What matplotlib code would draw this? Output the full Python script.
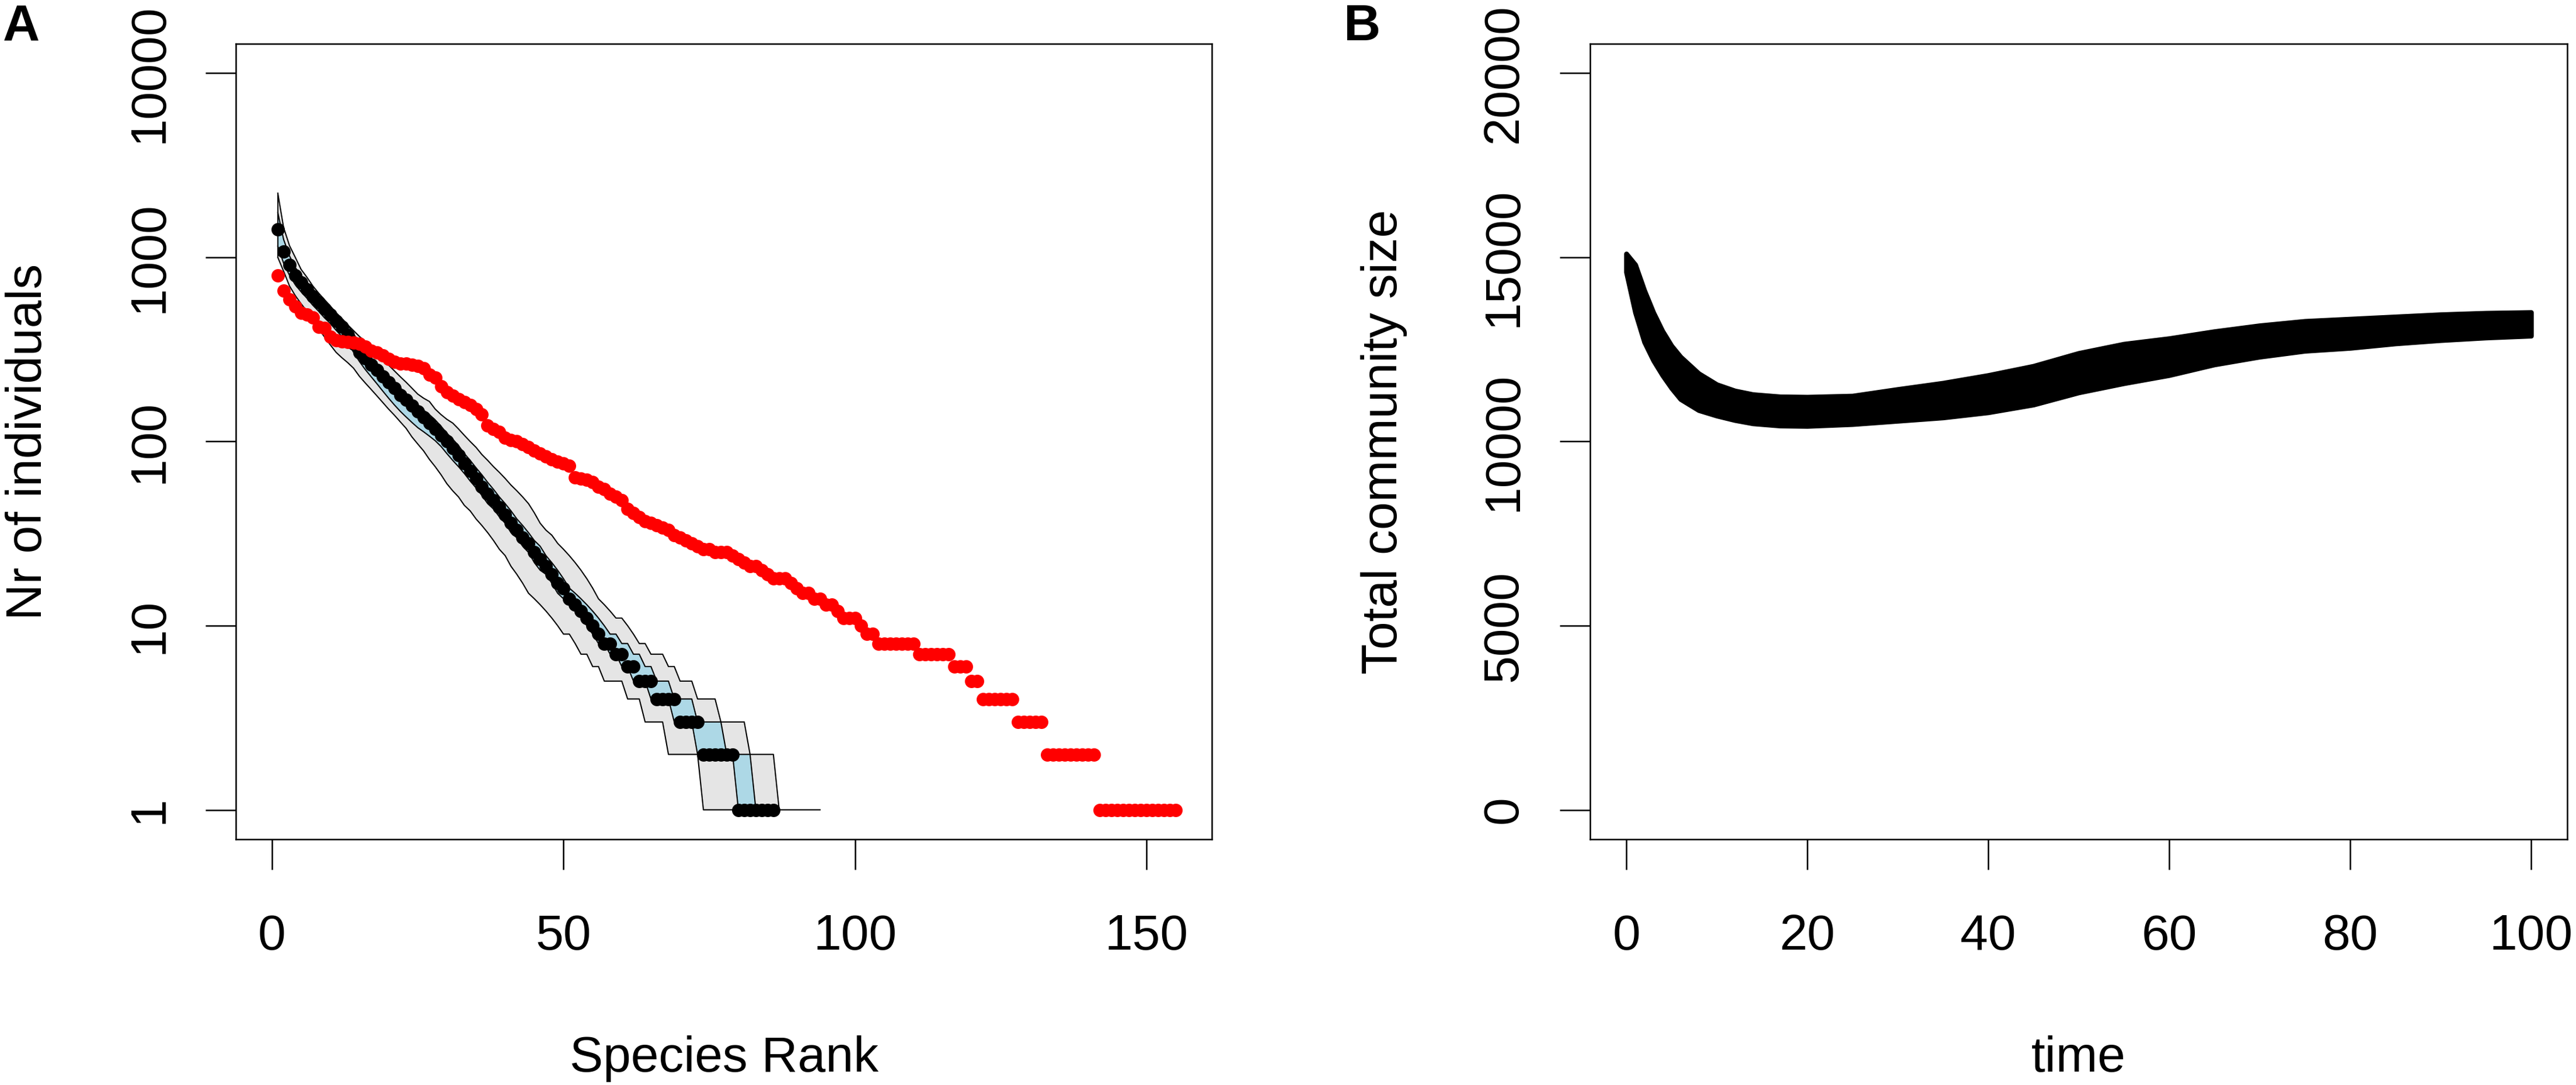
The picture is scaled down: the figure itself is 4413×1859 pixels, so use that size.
import matplotlib
matplotlib.use("Agg")
import matplotlib.pyplot as plt
import numpy as np

plt.rcParams['font.family'] = ['Liberation Sans', 'DejaVu Sans']

# ---- panel A: rank abundance ----
# observed community (red), ranks 1..155
observed = [800, 660, 590, 540, 500, 490, 470, 420, 415, 370,
            355, 350, 348, 345, 340, 328, 312, 305, 294, 280,
            270, 265, 265, 262, 258, 250, 230, 222, 200, 185,
            177, 170, 164, 158, 150, 140, 122, 117, 113, 105,
            102, 100, 97, 93, 89, 86, 83, 80, 78, 76,
            74, 64, 63, 62, 60, 57, 55, 52, 50, 48,
            43, 41, 39, 37, 36, 35, 34, 33, 31, 30,
            29, 28, 27, 26, 26, 25, 25, 25, 24, 23,
            22, 21, 21, 20, 19, 18, 18, 18, 17, 16,
            15, 15, 14, 14, 13, 13, 12, 11, 11, 11,
            10, 9, 9,
            8, 8, 8, 8, 8, 8, 8,
            7, 7, 7, 7, 7, 7,
            6, 6, 6,
            5, 5,
            4, 4, 4, 4, 4, 4,
            3, 3, 3, 3, 3,
            2, 2, 2, 2, 2, 2, 2, 2, 2,
            1, 1, 1, 1, 1, 1, 1, 1, 1, 1, 1, 1, 1, 1]

# simulated median (black), ranks 1..86
simulated = [1420, 1075, 910, 795, 730, 670, 615, 570, 525, 490,
             450, 420, 380, 340, 305, 282, 262, 244, 226, 209,
             195, 179, 169, 157, 146, 135, 126, 117, 108, 100,
             92, 84, 76, 69, 63, 57, 52, 48, 44, 40,
             36, 33, 30, 28, 25, 23, 21, 19, 17, 16,
             14, 13, 12, 11, 10, 9, 8, 8, 7, 7,
             6, 6, 5, 5, 5, 4, 4, 4, 4, 3,
             3, 3, 3,
             2, 2, 2, 2, 2, 2,
             1, 1, 1, 1, 1, 1, 1]

# outer envelope (grey)
outer_hi = [2230, 1450, 1160, 1000, 860, 780, 700, 640, 590, 545,
            500, 465, 430, 400, 372, 350, 325, 302, 280, 260,
            242, 225, 210, 195, 181, 172, 165, 150, 140, 132,
            126, 117, 108, 100, 93, 85, 79, 73, 68, 63,
            58, 54, 50, 46, 41, 36, 33, 31, 28, 26,
            24, 22, 20, 18, 16, 14, 13, 12, 11, 11,
            10, 9, 8, 8, 7, 7, 7, 6, 6, 5,
            5, 5, 4, 4, 4, 4, 3, 3, 3, 3,
            3, 2, 2, 2, 2, 2,
            1, 1, 1, 1, 1, 1, 1, 1]
outer_lo = [1000, 840, 700, 620, 560, 510, 460, 410, 370, 335,
            305, 285, 268, 250, 226, 208, 192, 177, 163, 150,
            139, 128, 118, 106, 97, 89, 80, 73, 66, 59,
            54, 50, 45, 42, 38, 35, 32, 29, 26, 24,
            21, 19, 17, 15, 14, 13, 12, 11, 10, 9,
            9, 8, 7, 7, 6, 6, 5, 5, 5, 5,
            4, 4, 4, 3, 3, 3, 3,
            2, 2, 2, 2, 2, 2,
            1, 1, 1, 1, 1, 1, 1, 1, 1, 1, 1, 1, 1, 1]

# inner envelope (light blue)
inner_hi = [1750, 1250, 1020, 880, 800, 735, 675, 625, 578, 540,
            500, 465, 430, 385, 340, 310, 285, 265, 245, 228,
            212, 196, 182, 170, 158, 148, 140, 131, 121, 111,
            103, 95, 86, 79, 72, 66, 60, 55, 50, 46,
            42, 38, 35, 32, 29, 27, 24, 22, 20, 18,
            16, 15, 14, 13, 12, 11, 10, 9, 9, 8,
            8, 7, 7, 6, 6, 5, 5, 5, 4, 4,
            4, 4, 3, 3, 3, 3, 3,
            2, 2, 2, 2, 2,
            1]
inner_lo = [1150, 930, 800, 710, 650, 600, 550, 510, 470, 438,
            402, 372, 345, 305, 272, 246, 225, 206, 188, 172,
            158, 146, 136, 127, 119, 113, 107, 101, 94, 86,
            79, 73, 67, 61, 56, 51, 46, 43, 39, 36,
            32, 30, 27, 25, 22, 20, 19, 17, 15, 14,
            13, 12, 11, 10, 9, 8, 8, 7, 7, 6,
            6, 5, 5, 5, 4, 4, 4, 4, 3, 3,
            3, 3, 2, 2, 2, 2, 2, 2, 2,
            1, 1, 1, 1]

# ---- panel B: total community size over time ----
time = [0, 1, 2, 3, 4, 5, 6, 8, 10, 12, 14, 17, 20, 25, 30, 35, 40, 45, 50,
        55, 60, 65, 70, 75, 80, 85, 90, 95, 100]
size_top = [15100, 14800, 14100, 13500, 13000, 12600, 12300, 11850, 11550,
            11380, 11280, 11220, 11210, 11240, 11420, 11590, 11800, 12050,
            12400, 12650, 12800, 12990, 13150, 13270, 13330, 13390, 13450,
            13490, 13510]
size_bottom = [14600, 13500, 12700, 12200, 11800, 11450, 11150, 10850, 10700,
               10580, 10490, 10430, 10420, 10470, 10560, 10650, 10790, 11000,
               11330, 11580, 11800, 12090, 12300, 12460, 12540, 12660, 12750,
               12820, 12870]

W, H, DPI = 4413, 1859, 300
FS = 20.6
fig = plt.figure(figsize=(W / DPI, H / DPI), dpi=DPI)

box_bottom = 1 - 1438 / H
box_h = 1363 / H
axA = fig.add_axes([404 / W, box_bottom, 1672 / W, box_h])
axB = fig.add_axes([2724 / W, box_bottom, 1674 / W, box_h])

for ax in (axA, axB):
    for s in ax.spines.values():
        s.set_linewidth(0.6)
    ax.tick_params(direction='out', length=12.5, width=0.6, labelsize=FS)
    ax.tick_params(axis='x', pad=18)
    ax.tick_params(axis='y', pad=13.2)

# panel A
r_obs = np.arange(1, len(observed) + 1)
r_sim = np.arange(1, len(simulated) + 1)
r_ohi = np.arange(1, len(outer_hi) + 1)
r_olo = np.arange(1, len(outer_lo) + 1)
r_ihi = np.arange(1, len(inner_hi) + 1)
r_ilo = np.arange(1, len(inner_lo) + 1)

n_o = len(outer_lo)
axA.fill_between(r_olo, outer_lo, outer_hi[:n_o], color='#E5E5E5', lw=0, zorder=1)
axA.plot(r_ohi, outer_hi, color='black', lw=0.5, zorder=2)
axA.plot(r_olo, outer_lo, color='black', lw=0.5, zorder=2)
axA.plot([1, 1], [outer_lo[0], outer_hi[0]], color='black', lw=0.5, zorder=2)

n_i = len(inner_lo)
axA.fill_between(r_ilo, inner_lo, inner_hi[:n_i], color='#ADD8E6', lw=0, zorder=3)
axA.plot(r_ihi, inner_hi, color='black', lw=0.5, zorder=4)
axA.plot(r_ilo, inner_lo, color='black', lw=0.5, zorder=4)
axA.plot([1, 1], [inner_lo[0], inner_hi[0]], color='black', lw=0.5, zorder=4)

axA.plot(r_sim, simulated, 'o', color='black', ms=5.5, mew=0, zorder=5)
axA.plot(r_obs, observed, 'o', color='red', ms=5.5, mew=0, zorder=6)

axA.set_yscale('log')
axA.set_xlim(-6.2, 161.2)
axA.set_ylim(10 ** -0.16, 10 ** 4.16)
axA.set_xticks([0, 50, 100, 150], ['0', '50', '100', '150'])
axA.set_yticks([1, 10, 100, 1000, 10000], ['1', '10', '100', '1000', '10000'],
               rotation=90, va='center')
axA.minorticks_off()
axA.set_xlabel('Species Rank', fontsize=FS, va='baseline')
axA.xaxis.set_label_coords(0.5, -398 / 1363)
axA.set_ylabel('Nr of individuals', fontsize=FS, va='baseline')
axA.yaxis.set_label_coords(-333 / 1672, 0.5)

# panel B
axB.fill_between(time, size_bottom, size_top, color='black', lw=2,
                 edgecolor='black', joinstyle='round', capstyle='round')
axB.set_xlim(-4, 104)
axB.set_ylim(-800, 20800)
axB.set_xticks([0, 20, 40, 60, 80, 100], ['0', '20', '40', '60', '80', '100'])
axB.set_yticks([0, 5000, 10000, 15000, 20000], ['0', '5000', '10000', '15000', '20000'],
               rotation=90, va='center')
axB.set_xlabel('time', fontsize=FS, va='baseline')
axB.xaxis.set_label_coords(0.5, -398 / 1363)
axB.set_ylabel('Total community size', fontsize=FS, va='baseline')
axB.yaxis.set_label_coords(-331 / 1674, 0.5)

fig.text(5 / W, 1 - 69 / H, 'A', fontsize=21, fontweight='bold', va='baseline', ha='left')
fig.text(2301 / W, 1 - 69 / H, 'B', fontsize=21, fontweight='bold', va='baseline', ha='left')

fig.savefig('out.png', dpi=DPI)
